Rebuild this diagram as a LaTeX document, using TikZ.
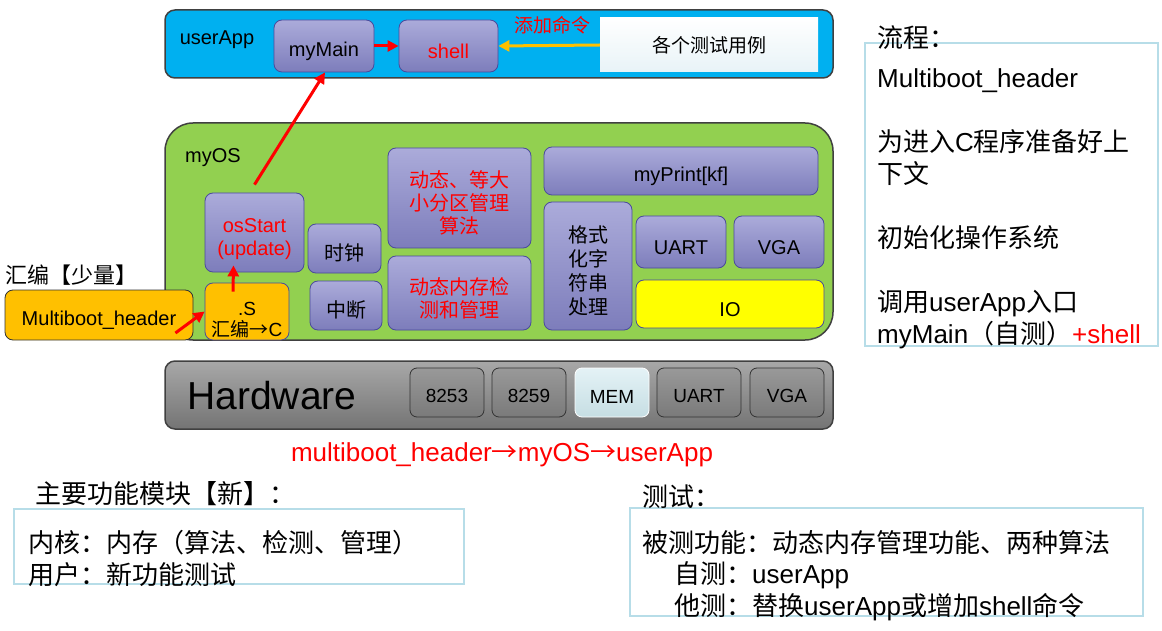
\documentclass[tikz,border=0pt]{standalone}
\usepackage{fontspec}
\setmainfont{Liberation Sans}
\newfontfamily\cjk{Noto Sans CJK SC}
\usetikzlibrary{arrows.meta}
\definecolor{appblue}{HTML}{00B0F0}
\definecolor{osgreen}{HTML}{92D050}
\definecolor{modtop}{HTML}{ABABDA}
\definecolor{modbot}{HTML}{7D7DBB}
\definecolor{modline}{HTML}{4A4A9C}
\definecolor{asmorange}{HTML}{FFC000}
\definecolor{hwtop}{HTML}{A8A8A8}
\definecolor{hwbot}{HTML}{747474}
\definecolor{chiptop}{HTML}{999999}
\definecolor{chipbot}{HTML}{7A7A7A}
\definecolor{memtop}{HTML}{E4F2F6}
\definecolor{membot}{HTML}{C6DEE3}
\definecolor{notecyan}{HTML}{B7DDE8}
\definecolor{casebot}{HTML}{E8F3F7}
\newcommand\sz[2]{\fontsize{#1pt}{#2pt}\selectfont}
\newcommand\lift{\rule{0pt}{27pt}}
\begin{document}
\begin{tikzpicture}
	[x=1pt,y=-1pt,
	layerbox/.style={draw=black!75,line width=1.5pt,inner sep=0pt},
	modbox/.style={draw=modline,line width=0.8pt,rounded corners=8pt,
		top color=modtop,bottom color=modbot,inner sep=0pt,align=center,font=\sz{20}{23},
		execute at begin node=\rule{0pt}{25pt}},
	chipbox/.style={draw=black!80,line width=0.8pt,rounded corners=7pt,
		top color=chiptop,bottom color=chipbot,inner sep=0pt,
		minimum height=49pt,font=\sz{19}{22},execute at begin node=\rule{0pt}{21pt}},
	notebox/.style={draw=notecyan,line width=1.5pt,inner sep=0pt},
	redarrow/.style={-{Triangle[length=11pt,width=11pt]},line width=3pt,red}]
	\useasboundingbox (0,0) rectangle (1162,631);

	\node[layerbox,fill=appblue,rounded corners=10pt,minimum width=668pt,minimum height=68pt] (userapp) at (499,44) {};
	\node[font=\sz{20}{24}] (applabel) at (217,40) {userApp};
	\node[modbox,minimum width=100pt,minimum height=52pt] (mymain) at (324,46) {myMain};
	\node[modbox,minimum width=99pt,minimum height=52pt,text=red] (shell) at (448.5,46) {shell};
	\node[inner sep=0pt,top color=white,bottom color=casebot,minimum width=218pt,minimum height=54pt,font=\sz{19}{22}] (cases) at (709,45) {\cjk 各个测试用例};
	\node[font=\sz{19}{22},text=red] (cmdlabel) at (552,25) {\cjk 添加命令};

	\node[layerbox,fill=osgreen,rounded corners=28pt,minimum width=668pt,minimum height=217pt] (myos) at (499,231.5) {};
	\node[font=\sz{20}{24}] (oslabel) at (213,158) {myOS};
	\node[modbox,minimum width=99pt,minimum height=79pt,text=red] (osstart) at (254.5,232.5) {\lift osStart\\(update)};
	\node[modbox,top color=asmorange,bottom color=asmorange,minimum width=84pt,minimum height=57pt] (asms) at (247,311.5) {};
	\node[font=\sz{19}{21},align=center] (asmtext) at ([yshift=-9pt]asms.center) {.S\\{\cjk 汇编→}C};
	\node[modbox,minimum width=73pt,minimum height=49pt] (clock) at (344.5,248.5) {\cjk 时钟};
	\node[modbox,minimum width=72pt,minimum height=49pt] (irq) at (346,305.5) {\cjk 中断};
	\node[modbox,minimum width=143pt,minimum height=100pt,text=red] (alloc) at (459.5,198) {\lift\cjk 动态、等大\\\cjk 小分区管理\\\cjk 算法};
	\node[modbox,minimum width=143pt,minimum height=74pt,text=red] (memchk) at (459.5,293) {\lift\cjk 动态内存检\\\cjk 测和管理};
	\node[modbox,minimum width=274pt,minimum height=48pt] (myprint) at (681,171) {myPrint[kf]};
	\node[modbox,minimum width=88pt,minimum height=128pt,font=\sz{20}{24}] (fmt) at (588,266) {\lift\cjk 格式\\\cjk 化字\\\cjk 符串\\\cjk 处理};
	\node[modbox,minimum width=90pt,minimum height=52pt] (uart) at (681,242) {UART};
	\node[modbox,minimum width=90pt,minimum height=52pt] (vga) at (779,242) {VGA};
	\node[modbox,top color=yellow,bottom color=yellow,minimum width=188pt,minimum height=48pt] (io) at (730,304) {IO};

	\node[modbox,draw=black!80,top color=asmorange,bottom color=asmorange,minimum width=188pt,minimum height=50pt] (mbhdr) at (99,315) {Multiboot\_header};
	\node[anchor=west,inner sep=0pt,font=\sz{22}{26}] (asmnote) at (5,275) {\cjk 汇编【少量】};

	\node[layerbox,rounded corners=10pt,top color=hwtop,bottom color=hwbot,minimum width=668pt,minimum height=68pt] (hw) at (499,395) {};
	\node[font=\sz{39}{44}] (hwlabel) at (272,396) {Hardware};
	\node[chipbox,minimum width=74pt] (c8253) at (447,392.5) {8253};
	\node[chipbox,minimum width=74pt] (c8259) at (529,392.5) {8259};
	\node[chipbox,minimum width=74pt,draw=white,top color=memtop,bottom color=membot] (mem) at (612,392.5) {MEM};
	\node[chipbox,minimum width=84pt] (huart) at (699,392.5) {UART};
	\node[chipbox,minimum width=74pt] (hvga) at (787,392.5) {VGA};

	\node[font=\sz{26}{30},text=red] (order) at (502,455) {multiboot\_header{\cjk →}myOS{\cjk →}userApp};

	\node[notebox,minimum width=293pt,minimum height=303pt] (flow) at (1011.5,194.5) {};
	\node[anchor=west,inner sep=0pt,font=\sz{26}{30}] (flowtitle) at (877,38) {\cjk 流程：};
	\node[anchor=north west,inner sep=0pt,align=left,font=\sz{26}{32}] (flowtext) at (877,68)
		{Multiboot\_header\\[32pt]
		{\cjk 为进入}C{\cjk 程序准备好上}\\
		{\cjk 下文}\\[32pt]
		{\cjk 初始化操作系统}\\[32pt]
		{\cjk 调用}userApp{\cjk 入口}\\
		myMain{\cjk （自测）}{\color{red}+shell}};

	\node[notebox,minimum width=450pt,minimum height=75pt] (mods) at (239,546.5) {};
	\node[anchor=west,inner sep=0pt,font=\sz{26}{30}] (modstitle) at (35,494) {\cjk 主要功能模块【新】：};
	\node[anchor=north west,inner sep=0pt,align=left,font=\sz{26}{32}] (modstext) at (28,530)
		{\cjk 内核：内存（算法、检测、管理）\\
		\cjk 用户：新功能测试};

	\node[notebox,minimum width=513pt,minimum height=108pt] (tests) at (886.5,562) {};
	\node[anchor=west,inner sep=0pt,font=\sz{26}{30}] (teststitle) at (642,497) {\cjk 测试：};
	\node[anchor=north west,inner sep=0pt,align=left,font=\sz{26}{31.5}] (teststext) at (642,530)
		{\cjk 被测功能：动态内存管理功能、两种算法\\
		\hspace*{32pt}{\cjk 自测：}userApp\\
		\hspace*{32pt}{\cjk 他测：替换}userApp{\cjk 或增加}shell{\cjk 命令}};

	\draw[redarrow] (mymain.east) -- (shell.west);
	\draw[redarrow,asmorange] (cases.west) -- (shell.east);
	\draw[redarrow] ([xshift=-18pt,yshift=-18pt]mbhdr.east) -- (asms.west);
	\draw[redarrow] ([xshift=-14pt,yshift=-9pt]asms.north) -- ([xshift=-21pt,yshift=7pt]osstart.south);
	\draw[redarrow] ([yshift=8pt]osstart.north) -- ([xshift=1pt]mymain.south);
\end{tikzpicture}
\end{document}
